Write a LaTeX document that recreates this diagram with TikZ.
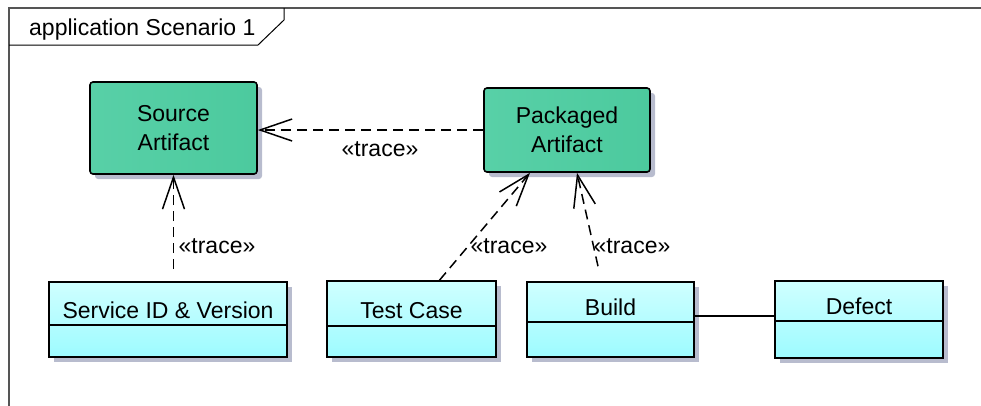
\documentclass[tikz,border=0pt]{standalone}
\usepackage{fontspec}
\setmainfont{Liberation Sans}
\usetikzlibrary{arrows.meta,shadows}

\definecolor{shadowgrey}{HTML}{B8BCCE}
\definecolor{artL}{HTML}{58D0A7}
\definecolor{artM}{HTML}{7ADCBC}
\definecolor{artR}{HTML}{4CCA9E}
\definecolor{clsTop}{HTML}{CFFFFF}
\definecolor{clsBot}{HTML}{9DFBFF}
\definecolor{framegrey}{HTML}{555555}

\tikzset{
  boxshadow/.style={drop shadow={shadow xshift=5bp, shadow yshift=-5bp, fill=shadowgrey, opacity=1}},
  artifact/.style={draw=black, line width=1.6bp, rounded corners=3bp,
    left color=artL, middle color=artM, right color=artR, shading angle=90,
    boxshadow, align=center, inner sep=0pt},
  classbox/.style={draw=black, line width=1.6bp, top color=clsTop, bottom color=clsBot,
    boxshadow, inner sep=0pt},
  divider/.style={line width=1.6bp},
  lbl/.style={inner sep=0pt, anchor=center},
  trace/.style={line width=1.5bp, dash pattern=on 10bp off 6bp,
    -{Straight Barb[length=32bp, width=22bp, line width=1.5bp]}},
}

\begin{document}
\begin{tikzpicture}[x=1bp, y=-1bp, font=\fontsize{23bp}{29bp}\selectfont]
  \useasboundingbox (0,0) rectangle (981,405);
  \clip (0,0) rectangle (981,405);

  % frame (it runs on past the right and lower edges) and its name tab
  \draw[framegrey, line width=1.4bp] (9,8) rectangle (1000,430);
  \draw[line width=1bp] (9,45) -- (258,45) -- (284,20) -- (284,8);
  \node[lbl, anchor=base west] (title) at (29,35) {application Scenario 1};

  % artifacts
  \node[artifact, minimum width=167bp, minimum height=92bp] (src) at (173.5,128) {Source\\Artifact};
  \node[artifact, minimum width=166bp, minimum height=84bp] (pkg) at (567,130) {Packaged\\Artifact};

  % classes
  \node[classbox, minimum width=238bp, minimum height=75bp] (svc) at (168,319.5) {};
  \draw[divider] (svc.west |- 0,325) -- (svc.east |- 0,325);
  \node[lbl] (svcname) at (168,310) {Service ID \& Version};

  \node[classbox, minimum width=169bp, minimum height=76bp] (test) at (411.5,319) {};
  \draw[divider] (test.west |- 0,326) -- (test.east |- 0,326);
  \node[lbl] (testname) at (411.5,311) {Test Case};

  \node[classbox, minimum width=167bp, minimum height=75bp] (build) at (610.5,319.5) {};
  \draw[divider] (build.west |- 0,322) -- (build.east |- 0,322);
  \node[lbl] (buildname) at (610.5,307) {Build};

  \node[classbox, minimum width=168bp, minimum height=77bp] (defect) at (859,319.5) {};
  \draw[divider] (defect.west |- 0,321) -- (defect.east |- 0,321);
  \node[lbl] (defectname) at (859,306) {Defect};

  % association
  \draw[line width=1.5bp] ([yshift=3.5bp]build.east) -- ([yshift=3.5bp]defect.west);

  % trace dependencies
  \draw[trace] (pkg.west) -- (src.east |- pkg.west);
  \node[lbl] (t1) at (380,149) {«trace»};

  \draw[trace] ([yshift=12bp]src.south |- svc.north) -- (src.south);
  \node[lbl] (t2) at (217,246) {«trace»};

  \draw[trace] ([xshift=28bp]test.north) -- ([xshift=-37bp]pkg.south);
  \node[lbl] (t3) at (509,246) {«trace»};

  \draw[trace] ([xshift=-12.5bp,yshift=15bp]build.north) -- ([xshift=10bp]pkg.south);
  \node[lbl] (t4) at (632,246) {«trace»};
\end{tikzpicture}
\end{document}
